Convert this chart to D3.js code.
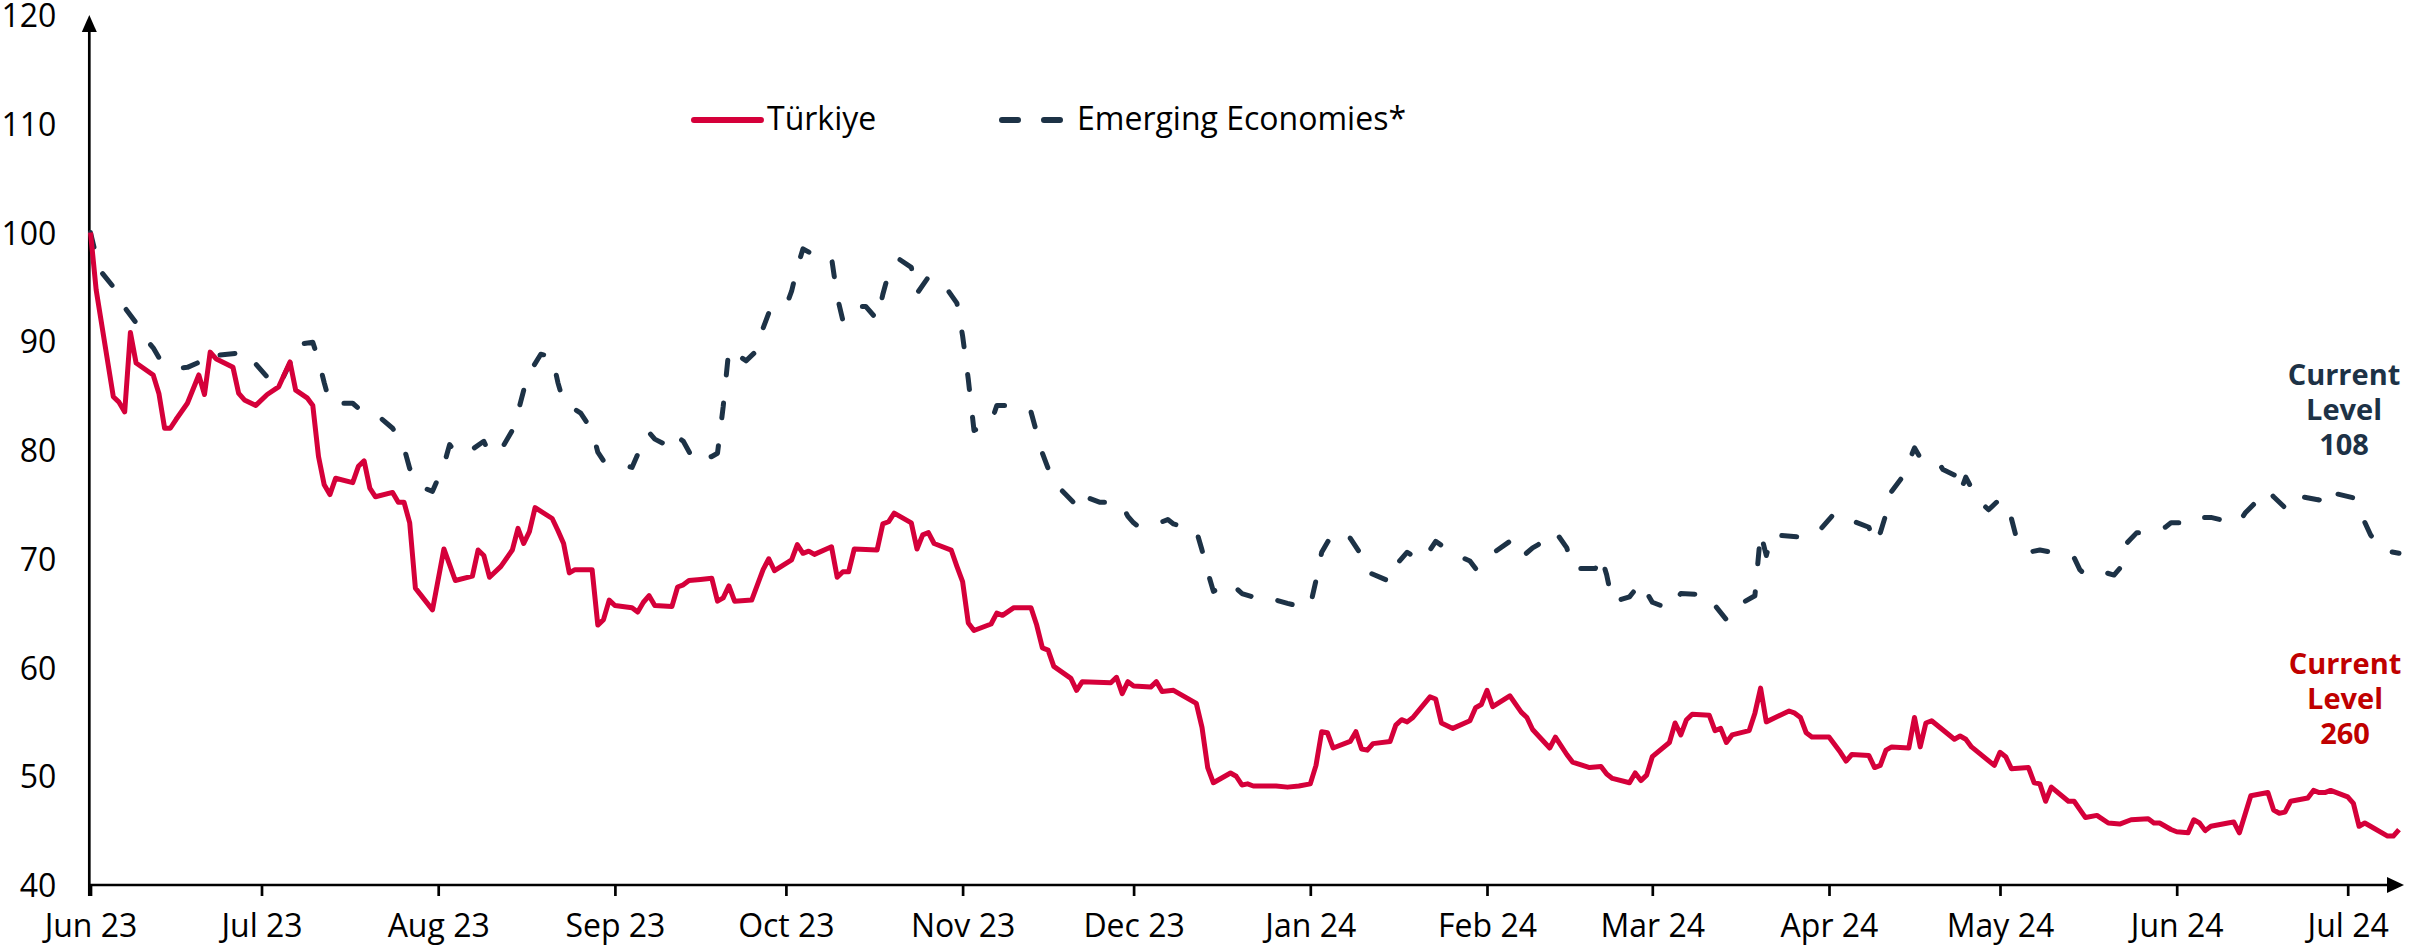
<!DOCTYPE html>
<html><head><meta charset="utf-8">
<script src="https://cdn.jsdelivr.net/npm/d3@7"></script>
<style>
body{margin:0;background:#fff}
svg{display:block}
text{font-family:'Open Sans',sans-serif}
</style>
</head><body>
<svg id="chart" width="2409" height="947"></svg>
<script>
// ---------- DATA ----------
const startDate = new Date(2023, 5, 1); // day 0 = 1 Jun 2023
const monthTicks = ["2023-06-01","2023-07-01","2023-08-01","2023-09-01","2023-10-01","2023-11-01","2023-12-01",
  "2024-01-01","2024-02-01","2024-03-01","2024-04-01","2024-05-01","2024-06-01","2024-07-01"];
const monthLabels = ["Jun 23","Jul 23","Aug 23","Sep 23","Oct 23","Nov 23","Dec 23",
  "Jan 24","Feb 24","Mar 24","Apr 24","May 24","Jun 24","Jul 24"];
const yTicks = [40,50,60,70,80,90,100,110,120];
const seriesNames = ["Türkiye","Emerging Economies*"];
const annotationEM = ["Current","Level","108"];
const annotationTR = ["Current","Level","260"];

// [day offset from 1 Jun 2023, index value]
const turkiye = [[0,100],[1,94.7],[4,84.9],[5,84.4],[6,83.5],[7,90.8],[8,88.0],[11,86.9],[12,85.2],[13,82.0],[14,82.0],
[15,82.8],[17,84.3],[19,86.9],[20,85.1],[21,89.0],[22,88.4],[25,87.6],[26,85.2],[27,84.6],[29,84.1],[31,85.1],[33,85.8],
[35,88.1],[36,85.5],[38,84.8],[39,84.1],[40,79.4],[41,76.8],[42,75.9],[43,77.4],[46,77.0],[47,78.5],[48,79.0],[49,76.5],
[50,75.7],[53,76.1],[54,75.2],[55,75.2],[56,73.3],[57,67.3],[60,65.3],[62,70.9],[64,68.0],[67,68.4],[68,70.8],[69,70.3],
[70,68.3],[72,69.3],[74,70.8],[75,72.8],[76,71.4],[77,72.5],[78,74.7],[81,73.7],[82,72.6],[83,71.4],[84,68.7],[85,69.0],
[88,69.0],[89,63.9],[90,64.4],[91,66.2],[92,65.7],[95,65.5],[96,65.1],[97,66.0],[98,66.6],[99,65.7],[102,65.6],[103,67.4],
[104,67.6],[105,68.0],[107,68.1],[109,68.2],[110,66.1],[111,66.4],[112,67.5],[113,66.1],[116,66.2],[118,69.0],[119,70.0],
[120,68.9],[123,69.9],[124,71.3],[125,70.5],[126,70.7],[127,70.4],[130,71.1],[131,68.3],[132,68.8],[133,68.8],[134,70.9],
[138,70.8],[139,73.2],[140,73.4],[141,74.2],[144,73.3],[145,70.9],[146,72.2],[147,72.4],[148,71.4],[151,70.8],[152,69.3],
[153,67.9],[154,64.1],[155,63.4],[158,64.0],[159,65.0],[160,64.8],[162,65.5],[165,65.5],[166,63.9],[167,61.8],[168,61.6],
[169,60.1],[172,59.0],[173,57.9],[174,58.7],[179,58.6],[180,59.1],[181,57.6],[182,58.7],[183,58.3],[186,58.2],[187,58.7],
[188,57.8],[190,57.9],[194,56.7],[195,54.5],[196,50.8],[197,49.4],[200,50.3],[201,50.0],[202,49.2],[203,49.3],[204,49.1],
[208,49.1],[210,49.0],[212,49.1],[214,49.3],[215,51.0],[216,54.1],[217,54.0],[218,52.6],[221,53.2],[222,54.1],[223,52.5],
[224,52.4],[225,53.0],[228,53.2],[229,54.7],[230,55.2],[231,55.0],[232,55.4],[235,57.3],[236,57.1],[237,54.9],[239,54.4],
[242,55.1],[243,56.3],[244,56.6],[245,57.9],[246,56.4],[249,57.4],[251,55.9],[252,55.4],[253,54.3],[256,52.6],[257,53.6],
[259,52.0],[260,51.3],[263,50.8],[265,50.9],[266,50.2],[267,49.8],[270,49.4],[271,50.3],[272,49.6],[273,50.1],[274,51.8],
[277,53.1],[278,54.9],[279,53.8],[280,55.2],[281,55.7],[284,55.6],[285,54.2],[286,54.4],[287,53.1],[288,53.8],[291,54.2],
[292,55.8],[293,58.1],[294,55.0],[298,56.0],[299,55.8],[300,55.4],[301,54.0],[302,53.6],[305,53.6],[307,52.2],[308,51.4],
[309,52.0],[312,51.9],[313,50.8],[314,51.0],[315,52.4],[316,52.7],[319,52.6],[320,55.4],[321,52.7],[322,54.9],[323,55.1],
[327,53.4],[328,53.7],[329,53.4],[330,52.7],[334,51.0],[335,52.2],[336,51.8],[337,50.7],[340,50.8],[341,49.4],[342,49.3],
[343,47.7],[344,49.0],[347,47.7],[348,47.7],[350,46.2],[352,46.4],[354,45.7],[356,45.6],[358,46.0],[361,46.1],[362,45.7],
[363,45.7],[365,45.1],[366,44.9],[368,44.8],[369,46.0],[370,45.7],[371,45.0],[372,45.4],[375,45.7],[376,45.8],[377,44.8],
[379,48.2],[382,48.5],[383,46.9],[384,46.6],[385,46.7],[386,47.7],[389,48.0],[390,48.7],[391,48.5],[392,48.5],[393,48.7],
[396,48.1],[397,47.5],[398,45.4],[399,45.7],[400,45.4],[403,44.5],[404,44.5],[405,45.1]];

const emerging = [[0,100],[1,97.8],[2,96.3],[4,95.0],[6,93.1],[8,91.7],[10,90.0],[11,89.4],[12,88.5],[14,87.8],[15,87.5],
[17,87.6],[20,88.3],[21,88.0],[22,88.7],[26,88.9],[27,88.3],[28,88.5],[31,86.7],[33,85.8],[35,88.0],[36,89.7],[39,89.9],
[40,88.3],[41,86.2],[42,84.3],[46,84.3],[48,83.4],[51,82.9],[53,82.0],[55,80.2],[56,78.3],[58,76.6],[60,76.2],[62,78.6],
[63,80.5],[64,79.8],[66,79.7],[69,80.8],[70,79.7],[72,80.0],[74,81.8],[75,83.5],[76,85.5],[77,87.1],[79,88.8],[81,88.6],
[82,86.2],[83,84.4],[86,83.4],[88,81.8],[89,79.8],[90,79.0],[93,78.7],[95,78.4],[97,80.8],[98,81.6],[99,81.0],[102,80.2],
[103,81.2],[104,80.8],[106,78.9],[109,79.4],[110,79.7],[111,84.0],[112,89.3],[115,88.2],[117,89.2],[118,91.2],[119,92.6],
[122,93.2],[123,94.6],[124,96.8],[125,98.5],[127,97.9],[130,97.7],[131,94.1],[132,91.9],[134,93.2],[136,93.2],[138,92.0],
[139,94.3],[140,96.2],[142,97.5],[144,96.8],[145,94.4],[147,95.9],[150,95.0],[152,93.5],[153,90.5],[154,86.5],[155,81.8],
[158,82.5],[159,84.1],[162,84.1],[165,83.5],[166,81.6],[167,79.7],[168,78.3],[169,77.0],[170,76.5],[173,74.9],[174,74.5],
[175,75.6],[177,75.2],[180,75.2],[181,74.9],[182,73.9],[183,73.3],[184,72.9],[187,73.2],[189,73.6],[190,73.2],[194,72.6],
[195,70.8],[196,68.8],[197,67.0],[200,67.8],[202,66.8],[207,66.0],[208,66.2],[210,65.9],[213,65.5],[214,65.7],[215,68.0],
[216,70.6],[218,72.4],[221,71.9],[223,70.3],[224,68.8],[228,67.9],[229,69.4],[231,70.6],[233,69.9],[234,70.0],[236,71.6],
[239,70.5],[242,69.8],[243,69.1],[244,69.9],[246,70.5],[249,71.6],[251,70.1],[253,71.0],[254,71.3],[257,72.5],[259,71.0],
[260,69.1],[264,69.1],[265,70.3],[266,68.5],[267,66.0],[270,66.5],[272,67.8],[274,66.0],[277,65.4],[279,66.8],[283,66.7],
[284,66.6],[285,65.7],[287,64.4],[289,65.7],[292,66.6],[293,72.4],[294,70.3],[295,72.2],[300,72.0],[303,72.4],[306,74.2],
[308,73.7],[312,72.9],[313,71.4],[314,72.4],[315,74.1],[316,76.2],[318,77.6],[320,80.2],[321,79.3],[324,79.0],[325,78.2],
[327,77.7],[328,76.1],[329,77.5],[331,75.5],[333,74.5],[335,75.5],[337,73.7],[338,71.7],[340,70.6],[342,70.8],[345,70.5],
[348,70.1],[349,69.0],[350,68.5],[353,68.8],[355,68.5],[356,69.1],[357,71.3],[359,72.4],[362,72.4],[364,72.9],[365,73.3],
[369,73.3],[370,73.8],[372,73.8],[376,73.3],[377,73.4],[378,74.2],[381,75.8],[382,76.3],[383,75.7],[385,74.7],[386,75.7],
[387,75.8],[391,75.4],[392,76.5],[393,76.1],[397,75.6],[398,74.5],[400,72.2],[401,71.5],[402,70.8],[405,70.5]];

// ---------- CHART ----------
const RED = "#d5003a", NAVY = "#1d3246", RED_TXT = "#c00000";
const svg = d3.select("#chart");
const parse = d3.timeParse("%Y-%m-%d");
const toDate = d => d3.timeDay.offset(startDate, d);

const x = d3.scaleTime()
  .domain([parse(monthTicks[0]), parse(monthTicks[monthTicks.length-1])])
  .range([90.5, 2347.7]);
const y = d3.scaleLinear().domain([40,120]).range([885,15]);
const axisX = 89.3, axisY = y(40);

// y labels
const gy = svg.append("g").attr("transform", `translate(${axisX},0)`)
  .call(d3.axisLeft(y).tickValues(yTicks).tickSize(0).tickPadding(33).tickFormat(d3.format("d")));
gy.select(".domain").remove();
gy.selectAll("text").attr("font-size", 32).attr("font-family", "'Open Sans',sans-serif").attr("fill", "#000").attr("dy", "0.36em");

// x axis ticks + labels
const gx = svg.append("g").attr("transform", `translate(0,${axisY})`)
  .call(d3.axisBottom(x).tickValues(monthTicks.map(parse)).tickSize(11).tickPadding(18)
    .tickFormat((d,i) => monthLabels[i]));
gx.select(".domain").remove();
gx.selectAll(".tick line").attr("stroke", "#000").attr("stroke-width", 2.7);
gx.selectAll("text").attr("font-size", 32).attr("font-family", "'Open Sans',sans-serif").attr("fill", "#000");

// axis lines with arrows
svg.append("line").attr("x1", axisX).attr("x2", axisX).attr("y1", axisY + 11).attr("y2", 30)
  .attr("stroke", "#000").attr("stroke-width", 2.7);
svg.append("path").attr("d", `M${axisX},15 L${axisX-7.5},32 L${axisX+7.5},32 Z`).attr("fill", "#000");
svg.append("line").attr("x1", axisX - 1.3).attr("x2", 2390).attr("y1", axisY).attr("y2", axisY)
  .attr("stroke", "#000").attr("stroke-width", 2.7);
svg.append("path").attr("d", `M2404,${axisY} L2387,${axisY-8} L2387,${axisY+8} Z`).attr("fill", "#000");

// lines
const line = d3.line().x(d => x(toDate(d[0]))).y(d => y(d[1])).curve(d3.curveLinear);
svg.append("path").datum(emerging).attr("d", line).attr("fill", "none")
  .attr("stroke", NAVY).attr("stroke-width", 5).attr("stroke-dasharray", "15,28")
  .attr("stroke-linecap", "round").attr("stroke-linejoin", "round");
svg.append("path").datum(turkiye).attr("d", line).attr("fill", "none")
  .attr("stroke", RED).attr("stroke-width", 5).attr("stroke-linejoin", "round");

// legend
const lg = svg.append("g");
lg.append("line").attr("x1", 694).attr("x2", 761).attr("y1", 120).attr("y2", 120)
  .attr("stroke", RED).attr("stroke-width", 6).attr("stroke-linecap", "round");
lg.append("text").attr("x", 767).attr("y", 130).attr("font-size", 32).text(seriesNames[0]);
lg.append("line").attr("x1", 1002).attr("x2", 1064).attr("y1", 120).attr("y2", 120)
  .attr("stroke", NAVY).attr("stroke-width", 6).attr("stroke-linecap", "round").attr("stroke-dasharray", "16,26");
lg.append("text").attr("x", 1077).attr("y", 130).attr("font-size", 32).text(seriesNames[1]);

// annotations
function annotate(lines, cx, y0, color) {
  const t = svg.append("text").attr("text-anchor", "middle").attr("font-size", 29)
    .attr("font-weight", 700).attr("fill", color);
  lines.forEach((s, i) => t.append("tspan").attr("x", cx).attr("y", y0 + i * 35).text(s));
}
annotate(annotationEM, 2344, 385, NAVY);
annotate(annotationTR, 2345, 674, RED_TXT);
</script>
</body></html>
